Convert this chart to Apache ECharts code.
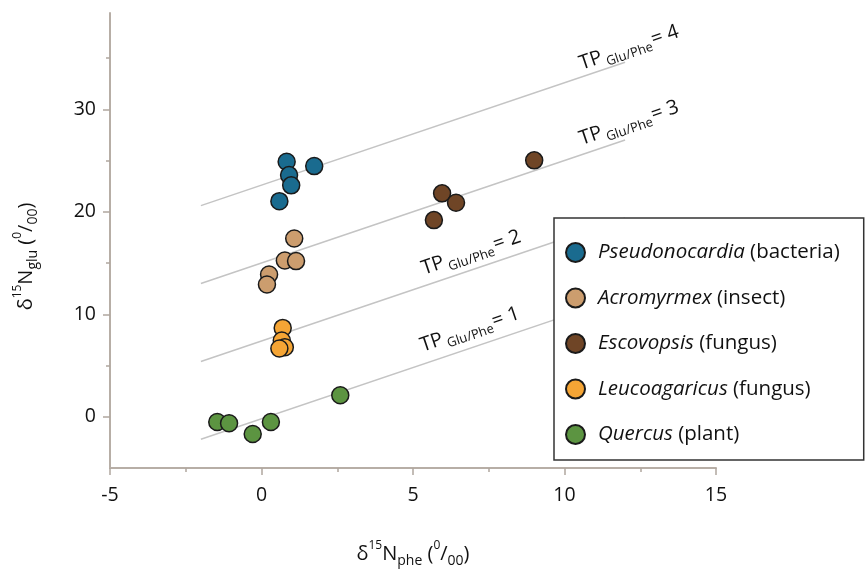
<!DOCTYPE html>
<html><head><meta charset="utf-8">
<script src="https://cdn.jsdelivr.net/npm/echarts@6/dist/echarts.min.js"></script>
<style>html,body{margin:0;padding:0;background:#fff}#c{width:867px;height:572px}</style>
</head><body><div id="c"></div>
<script>
// ---- data ----
const genus = ['Pseudonocardia', 'Acromyrmex', 'Escovopsis', 'Leucoagaricus', 'Quercus'];
const kind = ['bacteria', 'insect', 'fungus', 'fungus', 'plant'];
const colors = ['#1a6b8f', '#cc9d6e', '#6f4526', '#f5a535', '#5c9441'];

const pseudonocardiaX = [0.83, 1.74, 0.91, 0.98, 0.59];
const pseudonocardiaY = [24.88, 24.46, 23.58, 22.58, 21.04];
const acromyrmexX = [1.08, 0.77, 1.14, 0.25, 0.18];
const acromyrmexY = [17.40, 15.25, 15.19, 13.89, 12.91];
const escovopsisX = [9.00, 5.96, 6.42, 5.69];
const escovopsisY = [25.02, 21.80, 20.88, 19.19];
const leucoagaricusX = [0.70, 0.67, 0.77, 0.59];
const leucoagaricusY = [8.67, 7.44, 6.79, 6.66];
const quercusX = [2.60, -1.46, -1.07, 0.31, -0.29];
const quercusY = [2.10, -0.51, -0.63, -0.51, -1.68];

// trophic position reference lines
const tpLevels = [1, 2, 3, 4];
const tpLineX = [-2, 12];
const tpLineY0 = [-2.2, 5.4, 13.0, 20.6];
const tpLineY1 = [11.8, 19.4, 27.0, 34.6];
const tpLabelX = [6.88, 6.92, 12.13, 12.13];
const tpLabelY = [8.5, 16.0, 28.66, 36.0];

const xTickLabels = [-5, 0, 5, 10, 15];
const yTickLabels = [0, 10, 20, 30];
const yMinorTicks = [5, 15, 25, 35];

// ---- chart ----
const FONT = 'Open Sans';
const INK = '#111';
const pointSets = [
  [pseudonocardiaX, pseudonocardiaY],
  [acromyrmexX, acromyrmexY],
  [escovopsisX, escovopsisY],
  [leucoagaricusX, leucoagaricusY],
  [quercusX, quercusY]
];
const names = genus.map((g, i) => g + ' (' + kind[i] + ')');

const series = [];
tpLevels.forEach((tp, i) => {
  series.push({
    type: 'line', name: 'tp' + tp, silent: true, symbol: 'none', z: 1,
    lineStyle: { color: '#c4c4c4', width: 1.5 },
    data: [[tpLineX[0], tpLineY0[i]], [tpLineX[1], tpLineY1[i]]]
  });
});
series.push({
  type: 'scatter', name: 'tpLabels', silent: true, symbolSize: 1, z: 1,
  itemStyle: { color: 'rgba(0,0,0,0)' },
  data: tpLevels.map((tp, i) => ({ value: [tpLabelX[i], tpLabelY[i]], tp: tp })),
  label: {
    show: true, position: 'inside', rotate: 18.7, color: INK, opacity: 1,
    textBorderWidth: 0,
    formatter: p => '{b|TP}{s|Glu/Phe}{b|= ' + p.data.tp + '}',
    rich: {
      b: { fontFamily: FONT, fontSize: 20, color: INK, lineHeight: 26, verticalAlign: 'middle' },
      s: { fontFamily: FONT, fontSize: 13, color: INK, lineHeight: 14, verticalAlign: 'bottom', padding: [0, 1, 0, 3] }
    }
  }
});
pointSets.forEach((ps, i) => {
  series.push({
    type: 'scatter', name: names[i], symbol: 'circle', symbolSize: 17, z: 3,
    itemStyle: { color: colors[i], borderColor: '#1a1a1a', borderWidth: 1.5, opacity: 1 },
    data: ps[0].map((x, j) => [x, ps[1][j]])
  });
});

const tickStyle = { color: '#b0a69e', width: 1.5 };
const nameRich = {
  b: { fontFamily: FONT, fontSize: 20, color: INK, lineHeight: 28, verticalAlign: 'middle' },
  sup: { fontFamily: FONT, fontSize: 12, color: INK, lineHeight: 14, verticalAlign: 'top' },
  sub: { fontFamily: FONT, fontSize: 14, color: INK, lineHeight: 16, verticalAlign: 'bottom' }
};

const option = {
  animation: false,
  backgroundColor: '#fff',
  grid: { left: 110, right: 151, top: 13, bottom: 104, containLabel: false, outerBoundsMode: 'none' },
  legend: {
    data: names,
    orient: 'vertical',
    left: 554, top: 218,
    padding: [24, 24, 15, 11],
    itemGap: 24.5, itemWidth: 19, itemHeight: 19,
    icon: 'circle',
    backgroundColor: '#fff',
    borderColor: '#333', borderWidth: 1.5, borderRadius: 0,
    formatter: n => { const i = names.indexOf(n); return '{i|' + genus[i] + '}{n| (' + kind[i] + ')}'; },
    textStyle: {
      fontFamily: FONT, fontSize: 20.5, color: INK, padding: [0, 0, 0, 8],
      rich: {
        i: { fontFamily: FONT, fontSize: 20.5, fontStyle: 'italic', color: INK, lineHeight: 20 },
        n: { fontFamily: FONT, fontSize: 20.5, color: INK, lineHeight: 20 }
      }
    }
  },
  xAxis: [{
    type: 'value', min: -5, max: 15, interval: 5,
    axisLine: { show: true, onZero: false, lineStyle: { color: '#b7aea6', width: 2 } },
    axisTick: { show: true, length: 7, lineStyle: tickStyle },
    minorTick: { show: true, splitNumber: 2, length: 4, lineStyle: tickStyle },
    splitLine: { show: false },
    axisLabel: { margin: 17, fontFamily: FONT, fontSize: 19.5, color: INK, customValues: xTickLabels },
    name: '{b|δ}{sup|15}{b|N}{sub|phe}{b| (}{sup|0}{b|/}{sub|00}{b|)}',
    nameLocation: 'middle', nameGap: 72,
    nameTextStyle: { rich: nameRich }
  }],
  yAxis: [{
    type: 'value', min: -5, max: 39.4,
    axisLine: { show: true, onZero: false, lineStyle: { color: '#b7aea6', width: 2 } },
    axisTick: { show: true, length: 7, customValues: yTickLabels, lineStyle: tickStyle },
    splitLine: { show: false },
    axisLabel: { margin: 14, fontFamily: FONT, fontSize: 19.5, color: INK, customValues: yTickLabels },
    name: '{b|δ}{sup|15}{b|N}{sub|glu}{b| (}{sup|0}{b|/}{sub|00}{b|)}',
    nameLocation: 'middle', nameGap: 70,
    nameTextStyle: { rich: nameRich, padding: [0, 32, 0, 0] }
  }, {
    type: 'value', min: -5, max: 39.4, position: 'left',
    axisLine: { show: false, onZero: false },
    axisTick: { show: true, length: 4, customValues: yMinorTicks, lineStyle: tickStyle },
    splitLine: { show: false },
    axisLabel: { show: false }
  }],
  series: series
};

const chart = echarts.init(document.getElementById('c'), null, { renderer: 'canvas' });
chart.setOption(option);
</script>
</body></html>
